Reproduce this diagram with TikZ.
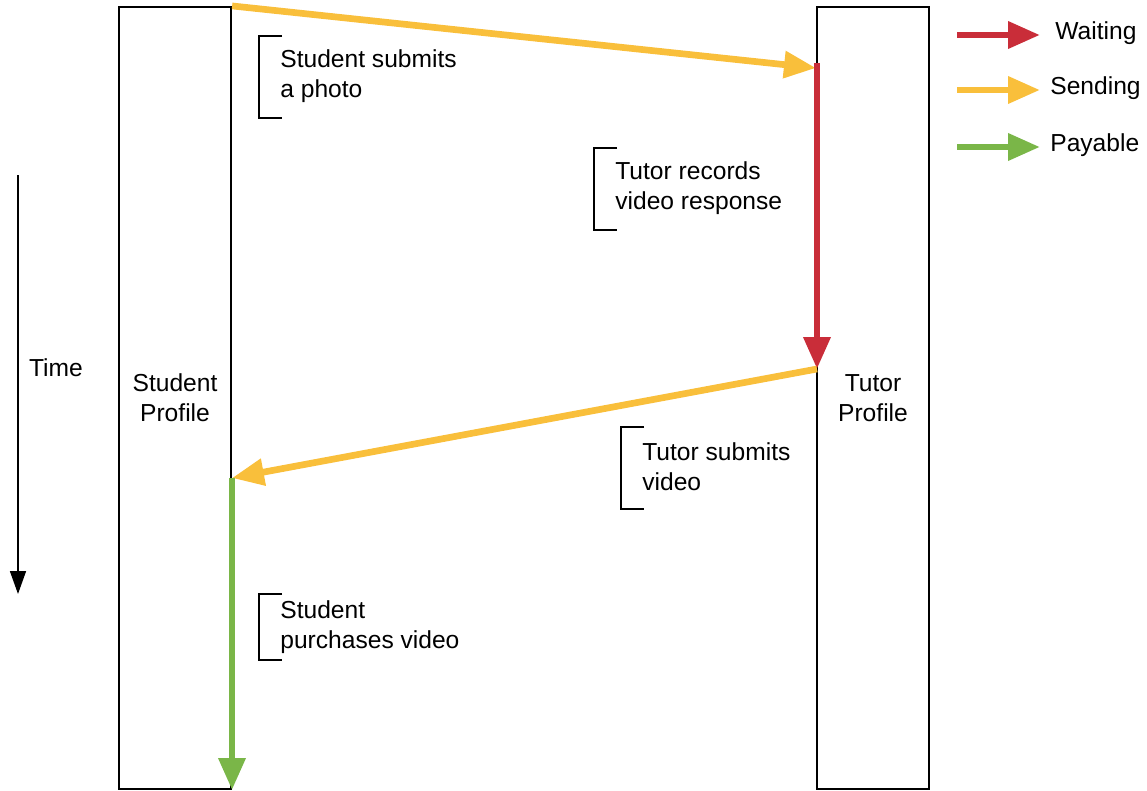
\documentclass[tikz,border=0pt]{standalone}
\usepackage{fontspec}
\setmainfont{Liberation Sans}
\usepackage{tikz}
\usetikzlibrary{arrows.meta}
\usepackage{xcolor}
\definecolor{waitred}{HTML}{C92D39}
\definecolor{sendyellow}{HTML}{F9BF3B}
\definecolor{paygreen}{HTML}{7AB648}

\begin{document}
\begin{tikzpicture}[x=0.02cm, y=-0.02cm,
    every node/.style={font=\fontsize{14}{17}\selectfont},
    profile/.style={draw, line width=1.3pt, minimum width=2.24cm, minimum height=15.64cm, align=center},
    note/.style={anchor=west, inner sep=0pt, align=left},
    brk/.style={line width=1.2pt},
    flow/.style={line width=3.8pt, -{Triangle[length=0.64cm, width=0.52cm]}},
    waiting/.style={flow, waitred},
    sending/.style={flow, sendyellow},
    payable/.style={flow, paygreen},
  ]
  \useasboundingbox (0,0) rectangle (1147,791);

  % profiles
  \node[profile] (stu) at (175,398) {Student\\Profile};
  \node[profile] (tut) at (873,398) {Tutor\\Profile};

  % time axis
  \coordinate (t0) at (18,175);
  \coordinate (t1) at (18,594);
  \draw[line width=0.9pt, -{Triangle[length=0.46cm, width=0.32cm]}] (t0) -- (t1);
  \node (time) at (56,368) {Time};

  % hand-over points
  \coordinate (recv) at (816,68);
  \coordinate (wtop) at (817,63);
  \coordinate (done) at (817,369);
  \coordinate (got) at (232,478);
  \coordinate (paid) at (232,790);

  \draw[sending] (stu.north east) -- (recv);
  \draw[waiting] (wtop) -- (done);
  \draw[sending] (done) -- (got);
  \draw[payable] (got) -- (paid);

  % notes
  \node[note] (photo) at (280,76) {Student submits\\a photo};
  \draw[brk] ([shift={(2,-40)}]photo.west) -- ++(-23,0) -- ++(0,82) -- ++(23,0);

  \node[note] (record) at (615,188) {Tutor records\\video response};
  \draw[brk] ([shift={(2,-40)}]record.west) -- ++(-23,0) -- ++(0,82) -- ++(23,0);

  \node[note] (submit) at (642,467) {Tutor submits\\video};
  \draw[brk] ([shift={(2,-40)}]submit.west) -- ++(-23,0) -- ++(0,82) -- ++(23,0);

  \node[note] (buy) at (280,627) {Student\\purchases video};
  \draw[brk] ([shift={(2,-33)}]buy.west) -- ++(-23,0) -- ++(0,66) -- ++(23,0);

  % legend
  \node[note] (lwait) at (1055,33) {Waiting};
  \node[note] (lsend) at (1050,88) {Sending};
  \node[note] (lpay) at (1050,145) {Payable};
  \coordinate (kwait) at (957,35);
  \coordinate (ksend) at (957,90);
  \coordinate (kpay) at (957,147);
  \draw[waiting] (kwait) -- (1040,35);
  \draw[sending] (ksend) -- (1040,90);
  \draw[payable] (kpay) -- (1040,147);
\end{tikzpicture}
\end{document}
